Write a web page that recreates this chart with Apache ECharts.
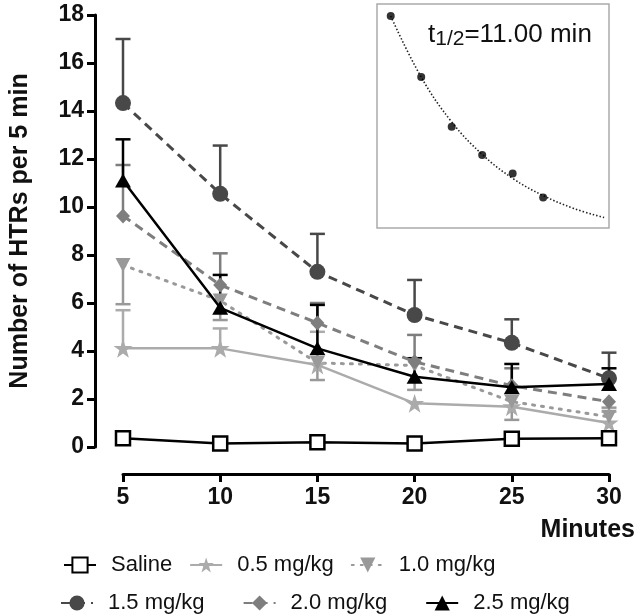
<!DOCTYPE html>
<html>
<head>
<meta charset="utf-8">
<script src="https://cdn.jsdelivr.net/npm/echarts@6/dist/echarts.min.js"></script>
<style>
html,body{margin:0;padding:0;background:#fff;}
#chart{width:638px;height:616px;}
</style>
</head>
<body>
<div id="chart"></div>
<script>
// ---------- data ----------
const times = [5, 10, 15, 20, 25, 30];
const yTicks = [0, 2, 4, 6, 8, 10, 12, 14, 16, 18];

const saline = [0.36, 0.15, 0.20, 0.15, 0.34, 0.36];

const d05 = [4.11, 4.11, 3.42, 1.82, 1.68, 1.00];
const d05Up = [5.70, 4.94, 4.80, null, null, 1.47];

const d10 = [7.58, 6.10, 3.50, 3.40, 1.89, 1.26];
const d10Low = [5.95, 5.29, 2.79, 2.38, 1.13, null];
const d10Up = [null, null, null, null, null, 1.64];

const d15 = [14.33, 10.55, 7.30, 5.50, 4.34, 2.86];
const d15Up = [17.00, 12.56, 8.88, 6.96, 5.32, 3.93];

const d20 = [9.63, 6.75, 5.17, 3.55, 2.55, 1.89];
const d20Up = [11.75, 8.07, 6.00, 4.67, 3.28, null];

const d25 = [11.10, 5.80, 4.11, 2.93, 2.49, 2.62];
const d25Up = [12.82, 7.17, 5.92, 3.70, 3.46, 3.28];

// inset: mean HTRs and the fitted decay curve (t1/2 = 11.00 min)
const insetTimes = [5, 10, 15, 20, 25, 30];
const insetMeans = [9.35, 6.84, 4.78, 3.61, 2.85, 1.86];
const curveTimes = [5, 10, 15, 20, 25, 30, 35, 40];
const curveVals = [9.35, 6.83, 4.98, 3.64, 2.65, 1.94, 1.41, 1.03];

// ---------- helpers ----------
const FONT = '"Liberation Sans", Arial, sans-serif';
const pairs = (xs, ys) => xs.map((x, i) => [x, ys[i]]);
function errData(means, ends) {
  const out = [];
  times.forEach((t, i) => { if (ends[i] != null) out.push([t, means[i], ends[i]]); });
  return out;
}
function errRender(color) {
  return function (params, api) {
    const x = api.value(0), a = api.value(1), b = api.value(2);
    const p1 = api.coord([x, a]), p2 = api.coord([x, b]);
    const w = 7.5;
    return {
      type: 'group',
      children: [
        { type: 'line', shape: { x1: p1[0], y1: p1[1], x2: p2[0], y2: p2[1] }, style: { stroke: color, lineWidth: 2.5 } },
        { type: 'line', shape: { x1: p2[0] - w, y1: p2[1], x2: p2[0] + w, y2: p2[1] }, style: { stroke: color, lineWidth: 2.5 } }
      ]
    };
  };
}
function errSeries(means, ends, color) {
  return {
    type: 'custom', xAxisIndex: 0, yAxisIndex: 0, z: 1, silent: true,
    renderItem: errRender(color), data: errData(means, ends), clip: false
  };
}
const STAR = 'path://M50,0 L61.8,35.4 L100,35.4 L69.1,57.3 L80.9,95.1 L50,73.2 L19.1,95.1 L30.9,57.3 L0,35.4 L38.2,35.4 Z';

const C05 = '#ababab', C10 = '#999999', C15 = '#484848', C20 = '#7e7e7e', C25 = '#000000';

const chart = echarts.init(document.getElementById('chart'), null, { renderer: 'canvas' });

const legendText = { fontFamily: FONT, fontSize: 22, color: '#111', padding: [0, 0, 0, 10] };

chart.setOption({
  animation: false,
  backgroundColor: '#fff',
  grid: [
    { left: 120, right: 29, top: 15, bottom: 169, containLabel: false },
    { left: 377, width: 232, top: 4, height: 224, show: true, borderColor: '#aaaaaa', borderWidth: 1.5, backgroundColor: 'rgba(0,0,0,0)' }
  ],
  xAxis: [
    {
      type: 'value', gridIndex: 0, min: 5, max: 30, interval: 5, offset: 27,
      axisLine: { show: true, onZero: false, lineStyle: { color: '#000', width: 3 } },
      axisTick: { show: true, length: 8, lineStyle: { color: '#000', width: 3 } },
      axisLabel: { fontFamily: FONT, fontSize: 23, fontWeight: 'bold', color: '#111', margin: 12 },
      splitLine: { show: false }
    },
    { type: 'value', gridIndex: 1, min: 2.75, max: 40.8, show: false }
  ],
  yAxis: [
    {
      type: 'value', gridIndex: 0, min: 0, max: 18, interval: 2, offset: 28,
      axisLine: { show: true, onZero: false, lineStyle: { color: '#000', width: 3 } },
      axisTick: { show: true, length: 8, lineStyle: { color: '#000', width: 3 } },
      axisLabel: { fontFamily: FONT, fontSize: 23, fontWeight: 'bold', color: '#111', margin: 11,
        formatter: v => yTicks.includes(v) ? String(v) : '' },
      splitLine: { show: false },
      name: 'Number of HTRs per 5 min', nameLocation: 'middle', nameRotate: 90, nameGap: 62,
      nameTextStyle: { fontFamily: FONT, fontSize: 25, fontWeight: 'bold', color: '#111' }
    },
    { type: 'value', gridIndex: 1, min: 0.6, max: 9.85, show: false }
  ],
  legend: [
    {
      data: ['Saline', '0.5 mg/kg', '1.0 mg/kg'], left: 58, top: 549, itemWidth: 32, itemHeight: 19,
      itemGap: 17, textStyle: legendText, selectedMode: false
    },
    {
      data: ['1.5 mg/kg', '2.0 mg/kg', '2.5 mg/kg'], left: 55, top: 587, itemWidth: 32, itemHeight: 19,
      itemGap: 38, textStyle: legendText, selectedMode: false
    }
  ],
  graphic: [
    { type: 'text', right: 3, top: 518, style: { text: 'Minutes', font: 'bold 25px ' + FONT, fill: '#111' } },
    {
      type: 'text', left: 428, top: 22,
      style: {
        text: '{a|t}{b|1/2}{a|=11.00 min}',
        rich: {
          a: { fontFamily: FONT, fontSize: 26, fill: '#111', lineHeight: 30 },
          b: { fontFamily: FONT, fontSize: 21, fill: '#111', lineHeight: 30, verticalAlign: 'bottom', padding: [2, 0, 0, 0] }
        }
      }
    }
  ],
  series: [
    errSeries(d05, d05Up, C05),
    errSeries(d10, d10Low, C10),
    errSeries(d10, d10Up, C10),
    errSeries(d20, d20Up, C20),
    errSeries(d15, d15Up, C15),
    errSeries(d25, d25Up, C25),
    {
      name: '0.5 mg/kg', type: 'line', data: pairs(times, d05), z: 2,
      symbol: STAR, symbolSize: 19, lineStyle: { color: C05, width: 2.5 }, itemStyle: { color: C05 }
    },
    {
      name: '1.0 mg/kg', type: 'line', data: pairs(times, d10), z: 2,
      symbol: 'triangle', symbolRotate: 180, symbolSize: [15, 14],
      lineStyle: { color: C10, width: 3, type: [2, 7], cap: 'round' }, itemStyle: { color: C10 }
    },
    {
      name: '2.0 mg/kg', type: 'line', data: pairs(times, d20), z: 3,
      symbol: 'diamond', symbolSize: [14, 15],
      lineStyle: { color: C20, width: 3, type: [9, 6] }, itemStyle: { color: C20 }
    },
    {
      name: '1.5 mg/kg', type: 'line', data: pairs(times, d15), z: 3,
      symbol: 'circle', symbolSize: 16,
      lineStyle: { color: C15, width: 3, type: [9, 6] }, itemStyle: { color: C15 }
    },
    {
      name: '2.5 mg/kg', type: 'line', data: pairs(times, d25), z: 4,
      symbol: 'triangle', symbolSize: [16, 14],
      lineStyle: { color: C25, width: 2.5 }, itemStyle: { color: C25 }
    },
    {
      name: 'Saline', type: 'line', data: pairs(times, saline), z: 5,
      symbol: 'rect', symbolSize: 14,
      lineStyle: { color: '#000', width: 2.5 }, itemStyle: { color: '#fff', borderColor: '#000', borderWidth: 2.5 }
    },
    {
      type: 'line', xAxisIndex: 1, yAxisIndex: 1, data: pairs(curveTimes, curveVals), smooth: 0.4,
      symbol: 'none', lineStyle: { color: '#222', width: 1.6, type: [1.5, 2] }, z: 5, silent: true
    },
    {
      type: 'scatter', xAxisIndex: 1, yAxisIndex: 1, data: pairs(insetTimes, insetMeans),
      symbol: 'circle', symbolSize: 8, itemStyle: { color: '#000' }, z: 6, silent: true
    }
  ]
});
</script>
</body>
</html>
